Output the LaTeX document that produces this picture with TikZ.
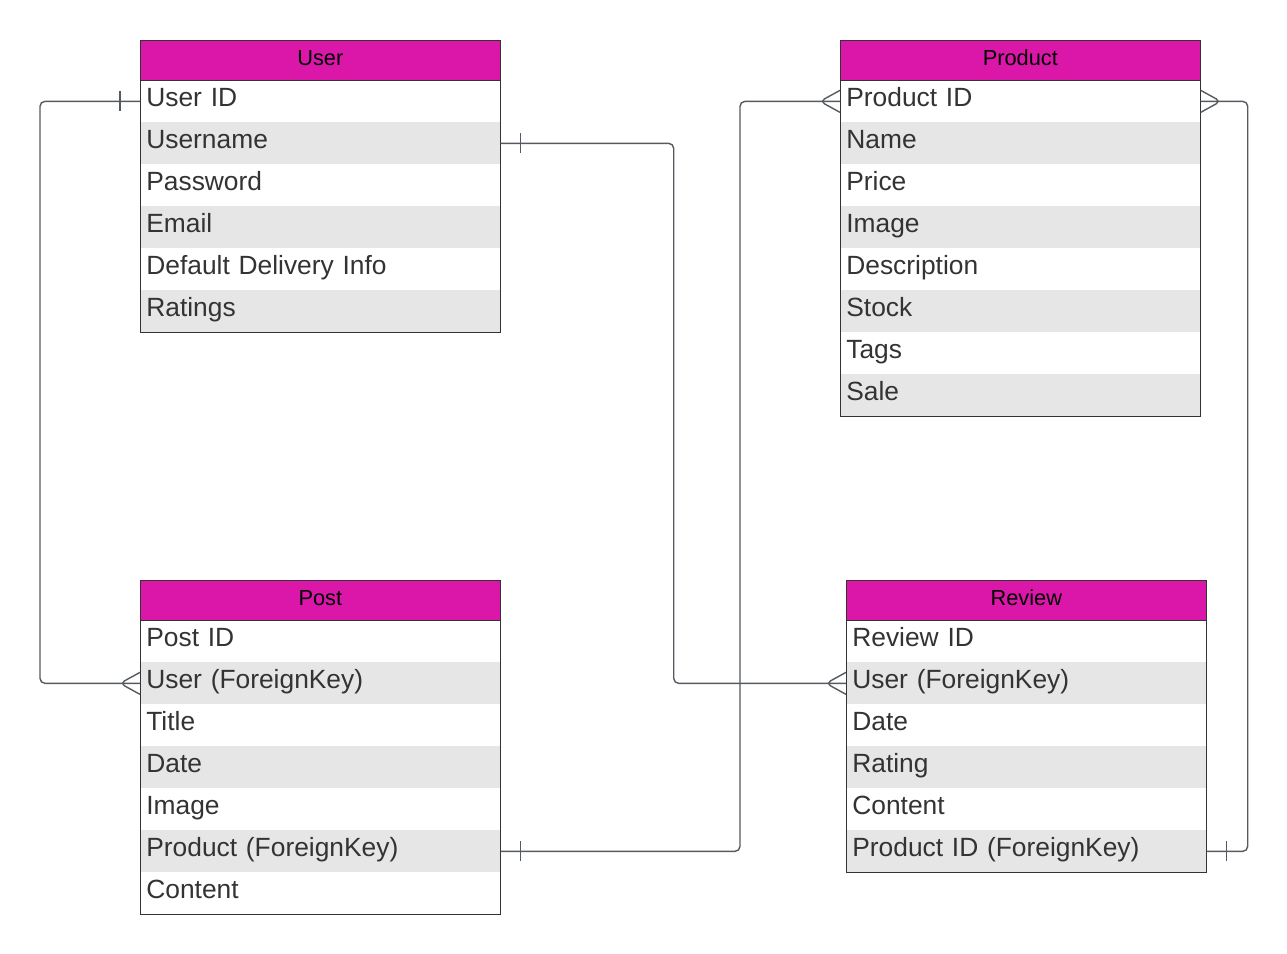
\documentclass[tikz,border=0pt]{standalone}
\usepackage{fontspec}
\setmainfont{Liberation Sans}
\usetikzlibrary{calc}
\definecolor{hdrpink}{HTML}{DB17A9}
\definecolor{rowgray}{HTML}{E6E6E6}
\definecolor{txtgray}{HTML}{333333}
\definecolor{linkgray}{HTML}{555A60}

\begin{document}
\begin{tikzpicture}[
  hdr/.style={draw=black!80, fill=hdrpink, anchor=north west, inner sep=0pt,
    minimum width=7.2cm, minimum height=0.8cm, text height=0.32cm, text depth=0.12cm,
    font=\fontsize{12.4}{14}\selectfont},
  row/.style={anchor=north west, inner xsep=0.12cm, inner ysep=0pt,
    minimum width=7.2cm, minimum height=0.84cm, text width=6.96cm, align=left,
    text height=0.38cm, text depth=0.18cm, text=txtgray,
    font=\fontsize{15}{17}\selectfont},
  link/.style={draw=linkgray, line width=0.8pt, rounded corners=0.1cm},
  crow/.pic={\draw[link] (0.4,0.22) -- (0,0) -- (0.4,-0.22);},
  onebar/.pic={\draw[link] (0,0.2) -- (0,-0.2);}
]
\useasboundingbox (0,0) rectangle (25.74,-19.08);

% User table
\node[hdr] (userh) at (2.8,-0.8) {User};
\foreach \txt [count=\i] in {User ID, Username, Password, Email, Default Delivery Info, Ratings} {
  \pgfmathtruncatemacro\shade{mod(\i,2)==0 ? 100 : 0}
  \node[row, fill=rowgray!\shade] (user\i) at (2.8,{-1.6-0.84*(\i-1)}) {\txt};
}
\draw[black!80] (userh.south west) rectangle (user6.south east);

% Product table
\node[hdr] (prodh) at (16.8,-0.8) {Product};
\foreach \txt [count=\i] in {Product ID, Name, Price, Image, Description, Stock, Tags, Sale} {
  \pgfmathtruncatemacro\shade{mod(\i,2)==0 ? 100 : 0}
  \node[row, fill=rowgray!\shade] (prod\i) at (16.8,{-1.6-0.84*(\i-1)}) {\txt};
}
\draw[black!80] (prodh.south west) rectangle (prod8.south east);

% Post table
\node[hdr] (posth) at (2.8,-11.6) {Post};
\foreach \txt [count=\i] in {Post ID, User (ForeignKey), Title, Date, Image, Product (ForeignKey), Content} {
  \pgfmathtruncatemacro\shade{mod(\i,2)==0 ? 100 : 0}
  \node[row, fill=rowgray!\shade] (post\i) at (2.8,{-12.4-0.84*(\i-1)}) {\txt};
}
\draw[black!80] (posth.south west) rectangle (post7.south east);

% Review table
\node[hdr] (revh) at (16.92,-11.6) {Review};
\foreach \txt [count=\i] in {Review ID, User (ForeignKey), Date, Rating, Content, Product ID (ForeignKey)} {
  \pgfmathtruncatemacro\shade{mod(\i,2)==0 ? 100 : 0}
  \node[row, fill=rowgray!\shade] (rev\i) at (16.92,{-12.4-0.84*(\i-1)}) {\txt};
}
\draw[black!80] (revh.south west) rectangle (rev6.south east);

% Relations
\draw[link] (user1.west) -- ++(-2,0) |- (post2.west);
\pic at ([xshift=-0.4cm]user1.west) {onebar};
\pic at ([xshift=-0.4cm]post2.west) {crow};

\draw[link] (user2.east) -- ++(3.46,0) |- (rev2.west);
\pic at ([xshift=0.4cm]user2.east) {onebar};
\pic at ([xshift=-0.4cm]rev2.west) {crow};

\draw[link] (prod1.west) -- ++(-2,0) |- (post6.east);
\pic at ([xshift=-0.4cm]prod1.west) {crow};
\pic at ([xshift=0.4cm]post6.east) {onebar};

\draw[link] (prod1.east) -- ++(0.94,0) |- (rev6.east);
\pic[xscale=-1] at ([xshift=0.4cm]prod1.east) {crow};
\pic at ([xshift=0.4cm]rev6.east) {onebar};
\end{tikzpicture}
\end{document}
